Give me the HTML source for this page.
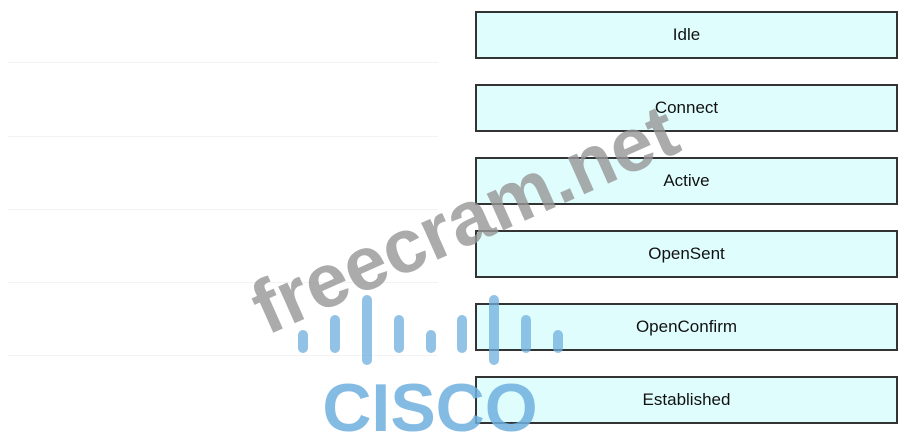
<!DOCTYPE html>
<html><head><style>
body{margin:0;width:910px;height:436px;background:#fff;position:relative;overflow:hidden;font-family:"Liberation Sans",sans-serif}
.b{position:absolute;left:475px;width:423px;height:48px;border:2px solid #333;background:#dffdfd;box-sizing:border-box;text-align:center;line-height:44px;font-size:17px;color:#111}
.l{position:absolute;left:8px;width:430px;height:1px;background:#f3f3f3}
.bar{position:absolute;width:10px;border-radius:5px;background:rgba(110,175,222,.75)}
</style></head><body>
<div class="l" style="top:62px"></div><div class="l" style="top:136px"></div><div class="l" style="top:209px"></div><div class="l" style="top:282px"></div><div class="l" style="top:355px"></div>
<div class="b" style="top:11px">Idle</div>
<div class="b" style="top:84px">Connect</div>
<div class="b" style="top:157px">Active</div>
<div class="b" style="top:230px">OpenSent</div>
<div class="b" style="top:303px">OpenConfirm</div>
<div class="b" style="top:376px">Established</div>
<div style="position:absolute;left:205px;top:180px;width:520px;text-align:center;font-weight:bold;font-size:76px;color:rgba(150,150,150,.8);transform:rotate(-24deg);transform-origin:center;line-height:80px">freecram.net</div>
<div class="bar" style="left:298px;top:330px;height:23px"></div>
<div class="bar" style="left:330px;top:315px;height:38px"></div>
<div class="bar" style="left:362px;top:295px;height:70px"></div>
<div class="bar" style="left:394px;top:315px;height:38px"></div>
<div class="bar" style="left:426px;top:330px;height:23px"></div>
<div class="bar" style="left:457px;top:315px;height:38px"></div>
<div class="bar" style="left:489px;top:295px;height:70px"></div>
<div class="bar" style="left:521px;top:315px;height:38px"></div>
<div class="bar" style="left:553px;top:330px;height:23px"></div>
<div style="position:absolute;left:310px;top:368px;width:240px;text-align:center;font-weight:bold;font-size:68px;letter-spacing:0px;color:rgba(110,175,222,.85);line-height:80px">CISCO</div>
</body></html>
